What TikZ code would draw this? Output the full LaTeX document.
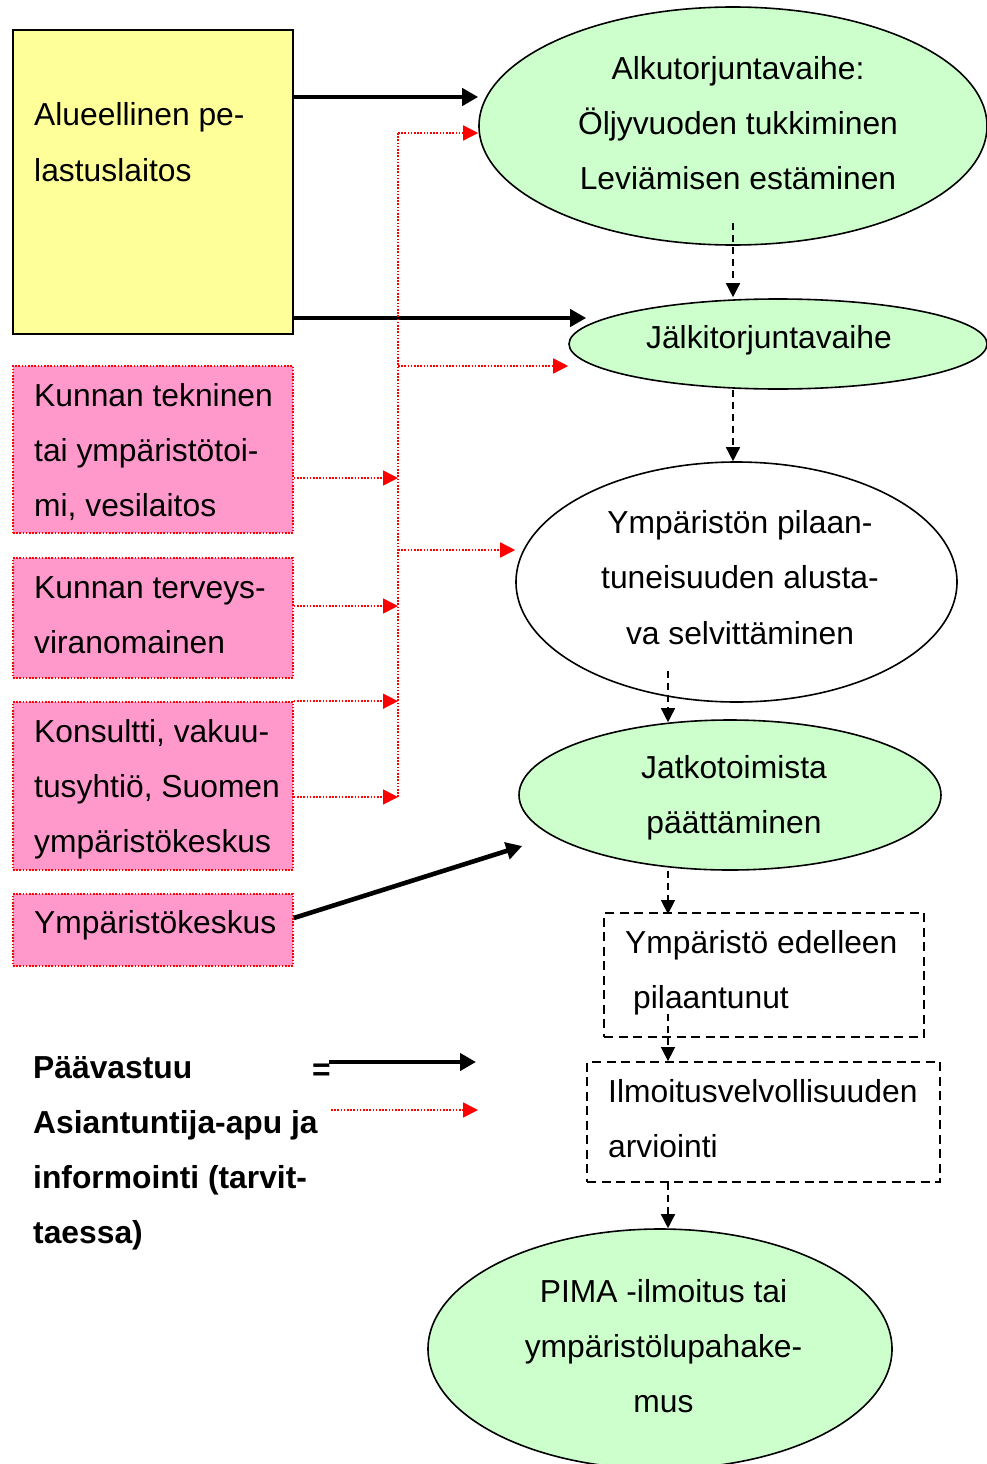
\documentclass[tikz,border=0pt]{standalone}
\usepackage{fontspec}
\setmainfont{Liberation Sans}
\usetikzlibrary{shapes.geometric,arrows.meta,calc}
\definecolor{yelfill}{HTML}{FFFF99}
\definecolor{grnfill}{HTML}{CCFFCC}
\definecolor{pnkfill}{HTML}{FF99CC}
\definecolor{redln}{HTML}{FF0000}
\tikzset{
  lbl/.style={inner sep=0pt, anchor=base, font=\fontsize{31.8}{38}\selectfont},
  lblw/.style={lbl, anchor=base west},
  lblb/.style={lblw, font=\fontsize{31.8}{38}\selectfont\bfseries},
  oval/.style={ellipse, draw=black, line width=1.6pt, inner sep=0pt},
  yelbox/.style={rectangle, draw=black, line width=1.8pt, fill=yelfill, inner sep=0pt},
  pnkbox/.style={rectangle, draw=redln, line width=1.6pt, dash pattern=on 1.6pt off 1.6pt, fill=pnkfill, inner sep=0pt},
  dashbox/.style={rectangle, draw=black, line width=1.8pt, dash pattern=on 9pt off 5.5pt, inner sep=0pt},
  thickarr/.style={draw=black, line width=4.6pt, -{Triangle[length=16pt,width=17pt]}},
  redarr/.style={draw=redln, line width=1.6pt, dash pattern=on 1.6pt off 1.6pt, -{Triangle[length=15pt,width=15pt]}},
  redln/.style={draw=redln, line width=1.6pt, dash pattern=on 1.6pt off 1.6pt},
  dasharr/.style={draw=black, line width=1.5pt, dash pattern=on 7pt off 5pt, -{Triangle[length=14pt,width=14pt]}}
}
\begin{document}
\begin{tikzpicture}[x=1pt,y=-1pt]
\useasboundingbox (0,0) rectangle (987,1464);
% shapes
\node[yelbox, minimum width=280pt, minimum height=304pt] (yel) at (153,182) {};
\node[pnkbox, minimum width=280pt, minimum height=167pt] (p1) at (153,449.5) {};
\node[pnkbox, minimum width=280pt, minimum height=120pt] (p2) at (153,618) {};
\node[pnkbox, minimum width=280pt, minimum height=168pt] (p3) at (153,786) {};
\node[pnkbox, minimum width=280pt, minimum height=72pt] (p4) at (153,930) {};
\node[oval, fill=grnfill, minimum width=508pt, minimum height=238pt] (e1) at (733,126) {};
\node[oval, fill=grnfill, minimum width=418pt, minimum height=90pt] (e2) at (778,344) {};
\node[oval, fill=white, minimum width=441pt, minimum height=240pt] (e3) at (736.5,582) {};
\node[oval, fill=grnfill, minimum width=422pt, minimum height=150pt] (e4) at (730,795) {};
\node[dashbox, minimum width=320pt, minimum height=124pt] (b1) at (764,975) {};
\node[dashbox, minimum width=353pt, minimum height=120pt] (b2) at (763.5,1122) {};
\node[oval, fill=grnfill, minimum width=464pt, minimum height=240pt] (pima) at (660,1349) {};
% helper coordinates
\coordinate (busT) at (398,133);
\coordinate (busB) at (398,797);
\coordinate (colA) at (733,0);
\coordinate (colB) at (668,0);
\coordinate (legA1) at (329,1062);
\coordinate (legA2) at (476,1062);
\coordinate (legR1) at (331,1110);
\coordinate (legR2) at (478,1110);
% black main arrows
\draw[thickarr] (yel.east |- 0,97) -- (e1.west |- 0,97);
\draw[thickarr] (yel.east |- 0,318) -- ($(e2.west |- 0,318)+(18,0)$);
\draw[thickarr] (p4.east |- 0,918) -- ($(e4.west)+(4,51)$);
% red dotted bus
\draw[redln] (busT) -- (busB);
\draw[redarr] (busT) -- (e1.west |- busT);
\draw[redarr] (busT |- 0,366) -- (e2.west |- 0,366);
\draw[redarr] (busT |- 0,550) -- (e3.west |- 0,550);
\draw[redarr] (p1.east |- 0,478) -- (busT |- 0,478);
\draw[redarr] (p2.east |- 0,606) -- (busT |- 0,606);
\draw[redarr] (p3.north east) -- (busT |- p3.north);
\draw[redarr] (p3.east |- busB) -- (busB);
% dashed flow arrows
\draw[dasharr] ($(colA |- e1.south)+(0,-23)$) -- ($(colA |- e2.north)+(0,-1)$);
\draw[dasharr] (colA |- e2.south) -- (colA |- e3.north);
\draw[dasharr] ($(colB |- e3.south)+(0,-32)$) -- ($(colB |- e4.north)+(0,3)$);
\draw[dasharr] (colB |- e4.south) -- ($(colB |- b1.north)+(0,2)$);
\draw[dasharr] ($(colB |- b1.south)+(0,-24)$) -- (colB |- b2.north);
\draw[dasharr] (colB |- b2.south) -- (colB |- pima.north);
% legend arrows
\draw[thickarr] (legA1) -- (legA2);
\draw[redarr] (legR1) -- (legR2);
% texts
\node[lblw] (tyel1) at (34,125) {Alueellinen pe-};
\node[lblw] (tyel2) at (34,181) {lastuslaitos};
\node[lblw] (tp1a) at (34,406) {Kunnan tekninen};
\node[lblw] (tp1b) at (34,461.5) {tai ympäristötoi-};
\node[lblw] (tp1c) at (34,516.5) {mi, vesilaitos};
\node[lblw] (tp2a) at (34,598) {Kunnan terveys-};
\node[lblw] (tp2b) at (34,653) {viranomainen};
\node[lblw] (tp3a) at (34,742) {Konsultti, vakuu-};
\node[lblw] (tp3b) at (34,797) {tusyhtiö, Suomen};
\node[lblw] (tp3c) at (34,852) {ympäristökeskus};
\node[lblw] (tp4a) at (34,933) {Ympäristökeskus};
\node[lbl] (te1a) at (738,79) {Alkutorjuntavaihe:};
\node[lbl] (te1b) at (738,134) {Öljyvuoden tukkiminen};
\node[lbl] (te1c) at (738,189) {Leviämisen estäminen};
\node[lbl] (te2a) at (769,348) {Jälkitorjuntavaihe};
\node[lbl] (te3a) at (740,533) {Ympäristön pilaan-};
\node[lbl] (te3b) at (740,588) {tuneisuuden alusta-};
\node[lbl] (te3c) at (740,644) {va selvittäminen};
\node[lbl] (te4a) at (734,778) {Jatkotoimista};
\node[lbl] (te4b) at (734,833) {päättäminen};
\node[lblw] (tb1a) at (625,953) {Ympäristö edelleen};
\node[lblw] (tb1b) at (633,1008) {pilaantunut};
\node[lblw] (tb2a) at (608,1102) {Ilmoitusvelvollisuuden};
\node[lblw] (tb2b) at (608,1157) {arviointi};
\node[lbl] (tpa) at (663.5,1302) {PIMA -ilmoitus tai};
\node[lbl] (tpb) at (663.5,1357) {ympäristölupahake-};
\node[lbl] (tpc) at (663.5,1412) {mus};
\node[lblb] (tl1) at (33,1078) {Päävastuu};
\node[lblb] (tleq) at (312,1080) {=};
\node[lblb] (tl2) at (33,1133) {Asiantuntija-apu ja};
\node[lblb] (tl3) at (33,1188) {informointi (tarvit-};
\node[lblb] (tl4) at (33,1243) {taessa)};
\end{tikzpicture}
\end{document}
